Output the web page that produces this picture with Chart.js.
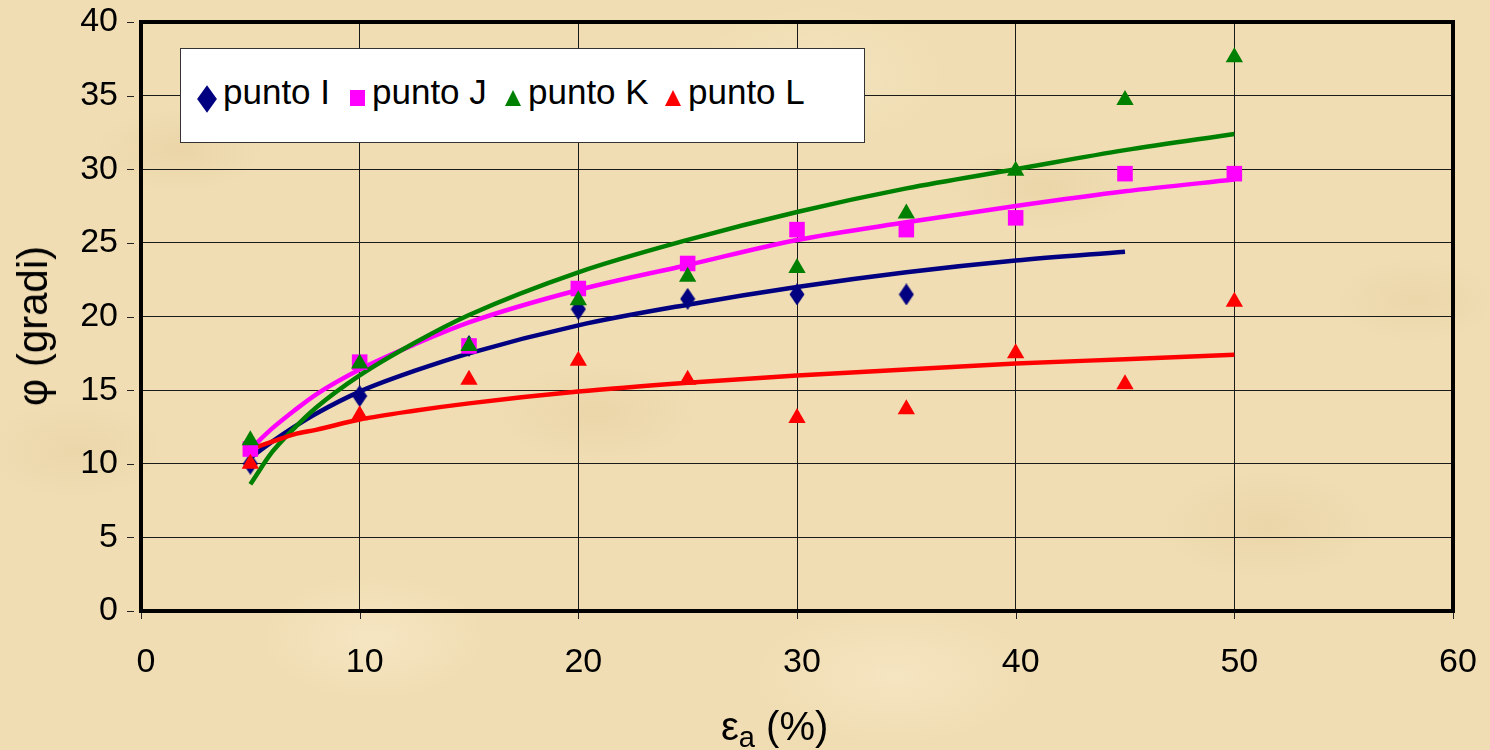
<!DOCTYPE html>
<html>
<head>
<meta charset="utf-8">
<script src="https://cdn.jsdelivr.net/npm/chart.js@4.4.1/dist/chart.umd.min.js"></script>
<style>
  html, body { margin:0; padding:0; }
  body {
    width:1490px; height:750px; overflow:hidden; position:relative;
    font-family:"Liberation Sans", Arial, sans-serif;
    background-color:#F0DDB3;
    background-image:
      radial-gradient(ellipse 120px 60px at 12% 20%, rgba(215,185,130,0.22), transparent 70%),
      radial-gradient(ellipse 150px 70px at 40% 55%, rgba(215,185,130,0.20), transparent 70%),
      radial-gradient(ellipse 140px 60px at 70% 25%, rgba(215,185,130,0.20), transparent 70%),
      radial-gradient(ellipse 160px 80px at 85% 70%, rgba(215,185,130,0.20), transparent 70%),
      radial-gradient(ellipse 160px 90px at 25% 85%, rgba(250,238,208,0.50), transparent 70%),
      radial-gradient(ellipse 200px 100px at 60% 90%, rgba(250,238,208,0.45), transparent 70%),
      radial-gradient(ellipse 180px 100px at 55% 10%, rgba(248,236,204,0.40), transparent 70%),
      radial-gradient(ellipse 120px 60px at 95% 40%, rgba(215,185,130,0.18), transparent 70%),
      radial-gradient(ellipse 130px 70px at 5% 60%, rgba(215,185,130,0.18), transparent 70%);
  }
  #wrap { position:absolute; left:0; top:0; width:1490px; height:750px; }
  #legend {
    position:absolute; left:180px; top:48px; width:685px; height:95px;
    background:#fff; border:1px solid #333; box-sizing:border-box;
    font-size:35px; color:#000; white-space:nowrap;
  }
  .item { position:absolute; top:23px; line-height:40px; }
  .mk { position:absolute; }
  .diamond { width:14px; height:14px; background:#000080; transform:scaleY(1.4) rotate(45deg); }
  .square { width:15px; height:16px; background:#FF00FF; }
  .tri { width:0; height:0; border-left:8px solid transparent; border-right:8px solid transparent; }
  #ytitle {
    position:absolute; left:33px; top:326px; font-size:42px; line-height:42px; color:#000;
    transform:translate(-50%,-50%) rotate(-90deg); white-space:nowrap;
  }
  #xtitle {
    position:absolute; left:721px; top:706px; font-size:40px; line-height:40px; color:#000; white-space:nowrap;
  }
  #xtitle sub { font-size:29px; vertical-align:-7px; line-height:0; }
</style>
</head>
<body>
<div id="wrap"><canvas id="c" width="1490" height="750"></canvas></div>
<div id="legend">
  <div class="mk diamond" style="left:19px;top:43px;"></div>
  <div class="item" style="left:42px;">punto I</div>
  <div class="mk square" style="left:169px;top:41px;"></div>
  <div class="item" style="left:191px;">punto J</div>
  <div class="mk tri" style="left:324px;top:41px;border-bottom:16px solid #008000;"></div>
  <div class="item" style="left:347px;">punto K</div>
  <div class="mk tri" style="left:484px;top:41px;border-bottom:16px solid #FF0000;"></div>
  <div class="item" style="left:507px;">punto L</div>
</div>
<div id="ytitle">φ (gradi)</div>
<div id="xtitle">ε<sub>a</sub> (%)</div>
<script>
// ---- data ----
const xValues = [5, 10, 15, 20, 25, 30, 35, 40, 45, 50];
const puntoI = [10.0, 14.6, 18.0, 20.5, 21.2, 21.5, 21.5, null, null, null];
const puntoJ = [11.0, 16.9, 18.0, 21.9, 23.6, 25.9, 25.9, 26.7, 29.7, 29.7];
const puntoK = [11.6, 16.8, 18.0, 21.1, 22.7, 23.3, 27.0, 29.9, 34.7, 37.6];
const puntoL = [10.0, 13.3, 15.7, 17.0, 15.7, 13.1, 13.7, 17.5, 15.4, 21.0];

// trend lines
const trendX = [5, 6, 7, 8, 10, 12.5, 15, 20, 25, 30, 35, 40, 45, 50];
const trendI = [10.4, 11.5, 12.5, 13.4, 14.9, 16.3, 17.5, 19.4, 20.8, 22.0, 23.0, 23.8, 24.4, null];
const trendJ = [11.0, 12.4, 13.6, 14.7, 16.4, 18.1, 19.6, 21.8, 23.5, 25.2, 26.4, 27.5, 28.5, 29.3];
const trendK = [8.6, 10.8, 12.4, 13.8, 16.0, 18.2, 20.1, 23.0, 25.2, 27.1, 28.7, 30.0, 31.3, 32.4];
const trendL = [11.0, 11.5, 12.0, 12.3, 13.0, 13.6, 14.1, 14.9, 15.5, 16.0, 16.4, 16.8, 17.1, 17.4];

const xTicks = [0, 10, 20, 30, 40, 50, 60];
const yTicks = [0, 5, 10, 15, 20, 25, 30, 35, 40];

function pts(xs, ys) {
  const out = [];
  xs.forEach((x, i) => { if (ys[i] !== null) out.push({x: x, y: ys[i]}); });
  return out;
}

// narrow diamond marker
const dia = document.createElement('canvas');
dia.width = 16; dia.height = 22;
(function(){
  const g = dia.getContext('2d');
  g.fillStyle = '#000080';
  g.beginPath(); g.moveTo(8,0); g.lineTo(15.5,11); g.lineTo(8,22); g.lineTo(0.5,11); g.closePath(); g.fill();
})();

const frame = {
  id: 'frame',
  beforeDatasetsDraw(chart) {
    const a = chart.chartArea, ctx = chart.ctx;
    const xs = chart.scales.x, ys = chart.scales.y;
    ctx.save();
    ctx.strokeStyle = '#222';
    ctx.lineWidth = 1;
    ctx.beginPath();
    xs.ticks.forEach(t => {
      const px = Math.round(xs.getPixelForValue(t.value)) + 0.5;
      ctx.moveTo(px, a.bottom); ctx.lineTo(px, a.bottom + 8);
    });
    ys.ticks.forEach(t => {
      const py = Math.round(ys.getPixelForValue(t.value)) + 0.5;
      ctx.moveTo(a.left - 14, py); ctx.lineTo(a.left - 7, py);
    });
    ctx.stroke();
    ctx.restore();
  },
  afterDatasetsDraw(chart) {
    const a = chart.chartArea, ctx = chart.ctx;
    ctx.save();
    ctx.strokeStyle = '#000';
    ctx.lineWidth = 4;
    ctx.strokeRect(a.left, a.top, a.right - a.left, a.bottom - a.top);
    ctx.restore();
  }
};

function trendDs(label, xs, ys, color, order) {
  return {
    label: label, data: pts(xs, ys), showLine: true, borderColor: color,
    borderWidth: 4.5, pointRadius: 0, pointHoverRadius: 0, fill: false,
    cubicInterpolationMode: 'monotone', order: order
  };
}

new Chart(document.getElementById('c'), {
  type: 'scatter',
  data: {
    datasets: [
      trendDs('trend I', trendX, trendI, '#000080', 8),
      trendDs('trend J', trendX, trendJ, '#FF00FF', 7),
      trendDs('trend K', trendX, trendK, '#008000', 6),
      trendDs('trend L', trendX, trendL, '#FF0000', 5),
      { label: 'punto I', data: pts(xValues, puntoI), pointStyle: dia, pointRadius: 9,
        backgroundColor: '#000080', borderColor: '#000080', order: 4 },
      { label: 'punto J', data: pts(xValues, puntoJ), pointStyle: 'rect', pointRadius: 11,
        backgroundColor: '#FF00FF', borderColor: '#FF00FF', borderWidth: 0, order: 3 },
      { label: 'punto K', data: pts(xValues, puntoK), pointStyle: 'triangle', pointRadius: 10,
        backgroundColor: '#008000', borderColor: '#008000', borderWidth: 0, order: 2 },
      { label: 'punto L', data: pts(xValues, puntoL), pointStyle: 'triangle', pointRadius: 10,
        backgroundColor: '#FF0000', borderColor: '#FF0000', borderWidth: 0, order: 1 }
    ]
  },
  options: {
    responsive: false, animation: false,
    layout: { padding: { top: 22, right: 37, left: 0, bottom: 0 } },
    plugins: { legend: { display: false }, tooltip: { enabled: false }, title: { display: false } },
    scales: {
      x: {
        type: 'linear', min: 0, max: 60,
        afterBuildTicks: s => { s.ticks = xTicks.map(v => ({value: v})); },
        afterFit: s => { s.height = 139; },
        grid: { color: '#1a1a1a', lineWidth: 1, drawTicks: true, tickLength: 31, tickColor: 'rgba(0,0,0,0)' },
        border: { display: false },
        ticks: { color: '#000', font: { family: '"Liberation Sans", Arial', size: 34 }, padding: 0, maxRotation: 0, labelOffset: 5 }
      },
      y: {
        type: 'linear', min: 0, max: 40,
        afterBuildTicks: s => { s.ticks = yTicks.map(v => ({value: v})); },
        afterFit: s => { s.width = 141; },
        grid: { color: '#1a1a1a', lineWidth: 1, drawTicks: true, tickLength: 23, tickColor: 'rgba(0,0,0,0)' },
        border: { display: false },
        ticks: { color: '#000', font: { family: '"Liberation Sans", Arial', size: 34 }, padding: 0 }
      }
    }
  },
  plugins: [frame]
});
</script>
</body>
</html>
